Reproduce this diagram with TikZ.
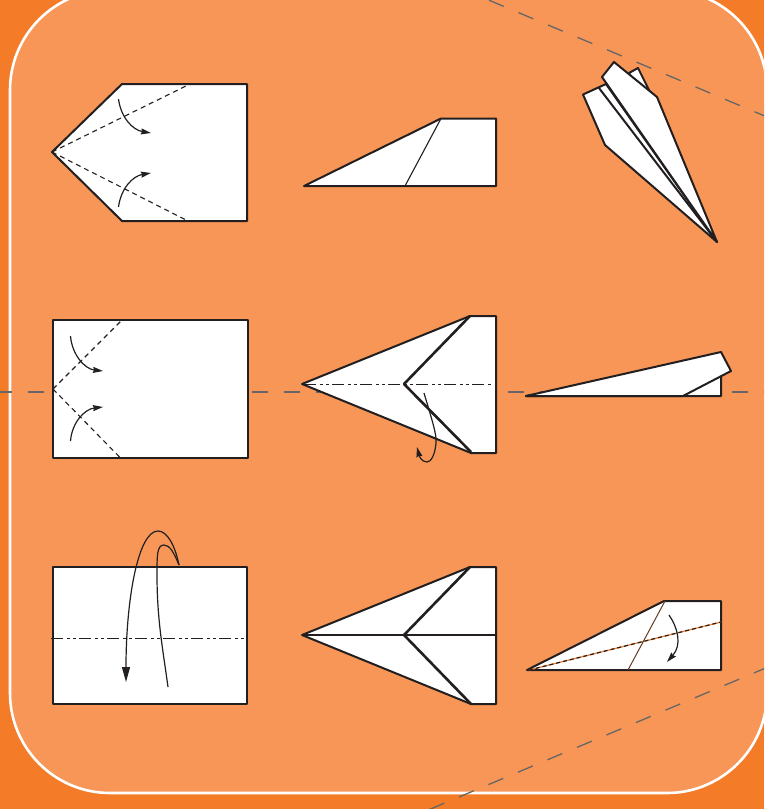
\documentclass[tikz,border=0pt]{standalone}
\usetikzlibrary{arrows.meta}
\definecolor{outerorange}{HTML}{F47B27}
\definecolor{innerorange}{HTML}{F79656}
\definecolor{ink}{HTML}{231F20}
\definecolor{guide}{HTML}{666666}
\tikzset{
  paper/.style={draw=ink,fill=white,line width=2pt,line join=round},
  crease/.style={draw=ink,line width=2.6pt,line join=round},
  thinline/.style={draw=ink,line width=1.1pt},
  valley/.style={draw=ink,line width=1.1pt,dash pattern=on 5pt off 4pt},
  mountain/.style={draw=ink,line width=1pt,dash pattern=on 12pt off 4pt on 3pt off 3pt on 3pt off 3pt},
  guideline/.style={draw=guide,line width=1.3pt,dash pattern=on 16pt off 16pt},
  foldarrow/.style={draw=ink,line width=1.2pt,-{Stealth[length=10pt,width=6pt,inset=1pt]}},
  bigarrow/.style={draw=ink,line width=1.2pt,-{Stealth[length=15pt,width=8pt,inset=0pt]}},
  arrowtail/.style={draw=ink,line width=1.2pt}
}
\begin{document}
\begin{tikzpicture}[x=1pt,y=-1pt]
\clip (0,0) rectangle (764,809);
\fill[outerorange] (0,0) rectangle (764,809);
\draw[white,fill=innerorange,line width=2.6pt,rounded corners=100pt] (10,-10) rectangle (767,793);
% guide lines
\draw[guideline] (-4,392) -- (770,392);
\draw[guideline] (489,0.2) -- (780,122.4);
\draw[guideline] (429.5,809.4) -- (780,662);
% step 1: top-left
\draw[paper] (52,152) -- (122,84) -- (247,84) -- (247,221) -- (122,221) -- cycle;
\draw[valley] (52,152) -- (190,84);
\draw[valley] (52,152) -- (188,221);
\draw[foldarrow] (118.5,99) .. controls (121,118) and (133,130) .. (151,133);
\draw[foldarrow] (118.5,207) .. controls (121,188) and (133,176) .. (151,173);
% step 2: middle-left
\draw[paper] (53,320) rectangle (247.5,457.5);
\draw[valley] (53,389) -- (122,320);
\draw[valley] (53,389) -- (120,457.5);
\draw[foldarrow] (70.5,336) .. controls (72,355) and (85,369) .. (103,371);
\draw[foldarrow] (70.5,441) .. controls (72,422) and (85,409) .. (103,407);
% step 3: bottom-left
\draw[paper] (53,567) rectangle (247,704);
\draw[mountain] (51,638) -- (246,638);
\draw[arrowtail] (179,565) .. controls (174,553) and (170,545) .. (164,545) .. controls (157,545) and (157,555) .. (157,575) .. controls (157,620) and (163,650) .. (168,687);
\draw[bigarrow] (179,565) .. controls (175,545) and (167,531) .. (158,531) .. controls (138,531) and (126,600) .. (126,682);
% step 4: bottom-middle
\draw[paper] (302,635) -- (470,567) -- (496,567) -- (496,704) -- (471,704) -- cycle;
\draw[crease] (302,635) -- (497,635);
\draw[crease] (470,567) -- (404,635) -- (471,704);
% step 5: centre
\draw[paper] (302,384) -- (470,316) -- (496,316) -- (496,453) -- (471,453) -- cycle;
\draw[mountain] (304,384) -- (493,384);
\draw[crease] (470,316) -- (404,384) -- (471,452);
\draw[foldarrow] (424,393) .. controls (432,420) and (437,435) .. (436,443) .. controls (435,455) and (431,462) .. (427,462) .. controls (421,462) and (419,455) .. (417,447);
% step 6: top-middle
\draw[paper] (304,186) -- (441,118.5) -- (496,118.5) -- (496,186) -- cycle;
\draw[thinline] (441,118.5) -- (405,186);
% step 7: bottom-right
\draw[paper] (527,670) -- (664,601) -- (721,601) -- (721,670) -- cycle;
\draw[draw=outerorange,line width=1.2pt] (529,670) -- (721,622);
\draw[draw=ink,line width=1.2pt,dash pattern=on 4pt off 3pt] (529,670) -- (721,622);
\draw[draw=ink!70!outerorange,line width=1pt] (665,601) -- (628,670);
\draw[foldarrow] (669,615) .. controls (678,628) and (682,645) .. (667,662);
% step 8: middle-right
\draw[paper] (526,396) -- (721,396) -- (721,370) -- (700,370) -- cycle;
\draw[paper] (526,396) -- (721,352) -- (731,371) -- (683,396) -- cycle;
% step 9: top-right
\draw[paper] (629,73) -- (638,68) -- (650,92) -- (640,95) -- cycle;
\draw[paper] (583,94.5) -- (606,84) -- (717,242) -- (605,145) -- cycle;
\draw[paper] (599,88) -- (717,242);
\draw[paper] (602,77) -- (614,62) -- (657,97) -- (717,242) -- cycle;
\end{tikzpicture}
\end{document}
